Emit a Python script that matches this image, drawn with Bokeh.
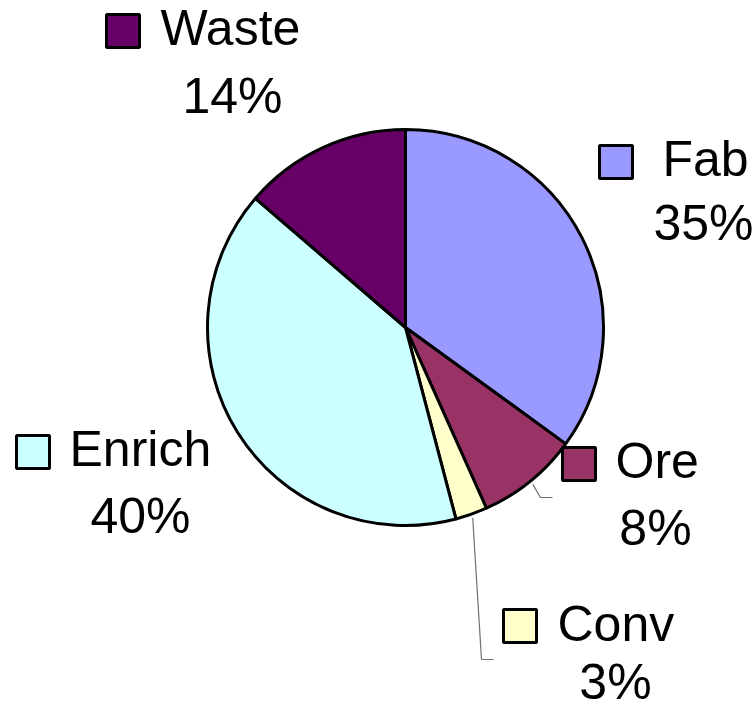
import math
from bokeh.plotting import figure
from bokeh.models import Range1d
from bokeh.embed import file_html
from bokeh.resources import INLINE
from bokeh.core.properties import value

# ---- data ----
categories = ["Fab", "Ore", "Conv", "Enrich", "Waste"]
shares = [35.0, 8.3, 2.6, 40.4, 13.7]
pct_labels = ["35%", "8%", "3%", "40%", "14%"]
colors = ["#9999FF", "#993366", "#FFFFCC", "#CCFFFF", "#660066"]

# ---- layout (pixel coords, y measured from top) ----
W, H = 755, 712
CX, CY, R = 405, 327, 198
FONT = value("Liberation Sans")
FS = "50px"
TEXT_SHIFT = 20  # correction of the rendered baseline
# square top-left, name text left/baseline, percent center/baseline
label_layout = {
    "Fab":    dict(sq=(599, 145), name=(662, 178), pct=(703, 242)),
    "Ore":    dict(sq=(562, 447), name=(615, 480), pct=(655, 547)),
    "Conv":   dict(sq=(503, 609), name=(557, 643), pct=(615, 701)),
    "Enrich": dict(sq=(16, 435),  name=(69, 468),  pct=(140, 535)),
    "Waste":  dict(sq=(106, 14),  name=(160, 47),  pct=(232, 115)),
}
leaders = {
    "Ore":  [(540, 497), (552, 497)],
    "Conv": [(481, 659), (493, 659)],
}
SQ = 33


def fy(y):
    return H - y


p = figure(width=W, height=H, output_backend="svg", toolbar_location=None,
           x_range=Range1d(0, W), y_range=Range1d(0, H), min_border=0,
           background_fill_color="white", border_fill_color="white")
p.axis.visible = False
p.grid.visible = False
p.outline_line_color = None

total = sum(shares)
cum = 0.0
starts, ends, mids = [], [], []
for s in shares:
    a0 = 90 - cum / total * 360
    cum += s
    a1 = 90 - cum / total * 360
    starts.append(a0)
    ends.append(a1)
    mids.append((a0 + a1) / 2)

p.wedge(x=[CX] * len(shares), y=[fy(CY)] * len(shares), radius=R,
        start_angle=starts, end_angle=ends, start_angle_units="deg",
        end_angle_units="deg", direction="clock",
        fill_color=colors, line_color="black", line_width=3)

# leader lines
for cat, pts in leaders.items():
    i = categories.index(cat)
    ang = math.radians(mids[i])
    sx = CX + (R + 4) * math.cos(ang)
    sy = fy(CY) + (R + 4) * math.sin(ang)
    xs = [sx] + [q[0] for q in pts]
    ys = [sy] + [fy(q[1]) for q in pts]
    p.line(xs, ys, line_color="#707070", line_width=1.2)

# labels
for i, cat in enumerate(categories):
    lay = label_layout[cat]
    sqx, sqy = lay["sq"]
    p.rect(x=[sqx + SQ / 2], y=[fy(sqy + SQ / 2)], width=SQ, height=SQ,
           fill_color=colors[i], line_color="black", line_width=3)
    nx, ny = lay["name"]
    p.text(x=[nx], y=[fy(ny - TEXT_SHIFT)], text=[cat], text_font=FONT,
           text_font_size=FS, text_align="left", text_baseline="alphabetic",
           text_color="black")
    px_, py_ = lay["pct"]
    p.text(x=[px_], y=[fy(py_ - TEXT_SHIFT)], text=[pct_labels[i]], text_font=FONT,
           text_font_size=FS, text_align="center", text_baseline="alphabetic",
           text_color="black")

open("out.html", "w").write(file_html(p, INLINE))
